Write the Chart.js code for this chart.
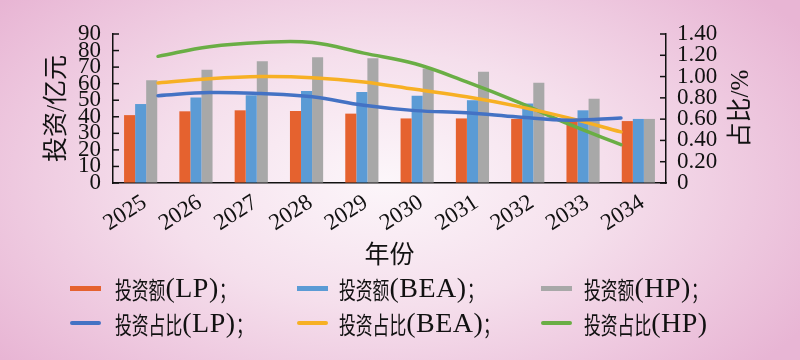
<!DOCTYPE html>
<html>
<head>
<meta charset="utf-8">
<script src="https://cdn.jsdelivr.net/npm/chart.js@4.4.1/dist/chart.umd.min.js"></script>
<style>
  html, body { margin: 0; padding: 0; }
  body {
    width: 800px; height: 360px; overflow: hidden; position: relative;
    background: radial-gradient(ellipse 62% 78% at 48% 50%, #fcf6fa 0%, #f5dfec 45%, #e8b5d4 100%);
  }
  #chart { position: absolute; left: 0; top: 0; }
  #legend { position: absolute; left: 0; top: 0; width: 800px; height: 360px; pointer-events: none; color: #111; }
  .sw { position: absolute; width: 31px; }
  .txt { position: absolute; top: 0; height: 30px; display: flex; align-items: center; white-space: nowrap; }
  .cjk { display: inline-block; font-family: "Noto Sans CJK SC", sans-serif; font-size: 24px;
    transform: scaleX(0.7); transform-origin: left center; }
  .lat { font-family: "Liberation Serif", serif; font-size: 28px; letter-spacing: 0.5px; }
</style>
</head>
<body>
<canvas id="chart" width="800" height="360"></canvas>
<div id="legend"></div>
<script>
// ===== DATA =====
const years = ['2025', '2026', '2027', '2028', '2029', '2030', '2031', '2032', '2033', '2034'];
const investLP = [41, 43.3, 43.9, 43.5, 41.9, 39, 39, 38.7, 37.6, 37.4];
const investBEA = [47.7, 51.7, 53, 55.6, 55, 52.7, 50, 48, 43.9, 38.7];
const investHP = [62, 68.4, 73.5, 76, 75.3, 69.2, 67.2, 60.6, 50.9, 38.7];
const shareLP = [0.82, 0.85, 0.84, 0.81, 0.73, 0.68, 0.66, 0.62, 0.59, 0.61];
const shareBEA = [0.94, 0.98, 1.00, 0.99, 0.95, 0.88, 0.81, 0.72, 0.61, 0.48];
const shareHP = [1.19, 1.28, 1.32, 1.32, 1.22, 1.12, 0.95, 0.76, 0.55, 0.36];
const leftTicks = [0, 10, 20, 30, 40, 50, 60, 70, 80, 90];
const rightTicks = [0, 0.2, 0.4, 0.6, 0.8, 1.0, 1.2, 1.4];
const rightTickLabels = ['0', '0.20', '0.40', '0.60', '0.80', '1.00', '1.20', '1.40'];
const rightTitle = '占比/%';

const serif = '"Liberation Serif", "Noto Sans CJK SC", serif';
Chart.defaults.font.family = serif;
Chart.defaults.color = '#111';

const toPoints = arr => arr.map((v, i) => ({ x: i, y: v }));
const yearIdx = years.map((y, i) => i);

// inward tick marks + right-hand title (reads bottom to top)
const axisExtras = {
  id: 'axisExtras',
  afterDraw(chart) {
    const ctx = chart.ctx;
    ctx.save();
    ctx.strokeStyle = '#111';
    ctx.lineWidth = 1.5;
    [['y', 1], ['y1', -1]].forEach(([id, dir]) => {
      const s = chart.scales[id];
      const x0 = id === 'y' ? s.right : s.left;
      s.ticks.forEach((t, i) => {
        const y = s.getPixelForTick(i);
        ctx.beginPath();
        ctx.moveTo(x0, y);
        ctx.lineTo(x0 + dir * 6, y);
        ctx.stroke();
      });
    });
    const area = chart.chartArea;
    ctx.translate(741, (area.top + area.bottom) / 2);
    ctx.rotate(-Math.PI / 2);
    ctx.fillStyle = '#111';
    ctx.font = '25px ' + serif;
    ctx.textAlign = 'center';
    ctx.textBaseline = 'middle';
    ctx.fillText(rightTitle, 0, 0);
    ctx.restore();
  }
};

const lineDs = (label, data, color) => ({
  type: 'line', label, data: toPoints(data), borderColor: color, backgroundColor: color,
  borderWidth: 3.5, pointRadius: 0, tension: 0.4, xAxisID: 'xl', yAxisID: 'y1', order: 0,
  borderCapStyle: 'round'
});
// each bar series sits on its own hidden linear axis, shifted by one bar width
const barDs = (label, data, color, axis) => ({
  type: 'bar', label, data: toPoints(data), backgroundColor: color, yAxisID: 'y', xAxisID: axis, order: 1,
  grouped: false, categoryPercentage: 1, barPercentage: 0.2
});
const hiddenX = (min, max) => ({
  type: 'linear', display: false, offset: false, min, max, grid: { offset: false },
  afterBuildTicks: s => { s.ticks = yearIdx.map(v => ({ value: v })); }
});

const chart = new Chart(document.getElementById('chart'), {
  type: 'bar',
  data: {
    labels: years,
    datasets: [
      barDs('投资额(LP)；', investLP, '#e5622f', 'xa'),
      barDs('投资额(BEA)；', investBEA, '#5b9bd5', 'xb'),
      barDs('投资额(HP)；', investHP, '#a8a8a8', 'xc'),
      lineDs('投资占比(LP)；', shareLP, '#4472c4'),
      lineDs('投资占比(BEA)；', shareBEA, '#f7b024'),
      lineDs('投资占比(HP)', shareHP, '#6aae45')
    ]
  },
  options: {
    responsive: false,
    animation: false,
    devicePixelRatio: 1,
    layout: { padding: { top: 34, bottom: 92, left: 0, right: 0 } },
    plugins: { legend: { display: false }, tooltip: { enabled: false } },
    scales: {
      x: {
        type: 'category', position: 'bottom', offset: true,
        grid: { display: false, drawTicks: false },
        border: { color: '#111', width: 1.5 },
        ticks: { autoSkip: false, minRotation: 33, maxRotation: 33, padding: 6, labelOffset: 4, font: { size: 23 }, color: '#111' },
        title: { display: true, text: '年份', font: { size: 25 }, color: '#111', padding: { top: 0, bottom: -3 } },
        afterFit: s => { s.height = 85; }
      },
      xa: hiddenX(-0.3, 9.7),
      xb: hiddenX(-0.5, 9.5),
      xc: hiddenX(-0.7, 9.3),
      xl: hiddenX(-0.875, 9.875),
      y: {
        position: 'left', min: 0, max: 90,
        grid: { drawOnChartArea: false, drawTicks: false },
        border: { color: '#111', width: 1.5 },
        afterBuildTicks: s => { s.ticks = leftTicks.map(v => ({ value: v })); },
        ticks: { autoSkip: false, padding: 12, font: { size: 23 }, color: '#111' },
        title: { display: true, text: '投资/亿元', font: { size: 25 }, color: '#111', padding: { top: 42, bottom: 0 } },
        afterFit: s => { s.width = 113; }
      },
      y1: {
        position: 'right', min: 0, max: 1.4,
        grid: { drawOnChartArea: false, drawTicks: false },
        border: { color: '#111', width: 1.5 },
        afterBuildTicks: s => { s.ticks = rightTicks.map(v => ({ value: v })); },
        ticks: { autoSkip: false, padding: 11, font: { size: 23 }, color: '#111', callback: (v, i) => rightTickLabels[i] },
        afterFit: s => { s.width = 134; }
      }
    }
  },
  plugins: [axisExtras]
});

// ===== LEGEND (built from the datasets) =====
const swatchCols = [70, 297, 541];
const textCols = [115, 339, 584];
const legendRows = [288, 323];
const legendEl = document.getElementById('legend');
chart.data.datasets.forEach((ds, i) => {
  const col = i % 3, row = Math.floor(i / 3);
  const isLine = ds.type === 'line';
  const sw = document.createElement('span');
  sw.className = 'sw';
  const h = isLine ? 4 : 5;
  sw.style.left = swatchCols[col] + 'px';
  sw.style.top = (legendRows[row] - h / 2) + 'px';
  sw.style.height = h + 'px';
  sw.style.borderRadius = isLine ? '2px' : '0';
  sw.style.background = isLine ? ds.borderColor : ds.backgroundColor;
  legendEl.appendChild(sw);

  const txt = document.createElement('div');
  txt.className = 'txt';
  txt.style.left = textCols[col] + 'px';
  txt.style.top = (legendRows[row] - 15) + 'px';
  ds.label.split(/([\u3000-\u9fff\uff00-\uffef]+)/).filter(Boolean).forEach(part => {
    const span = document.createElement('span');
    if (/[\u3000-\u9fff\uff00-\uffef]/.test(part)) {
      span.className = 'cjk';
      span.style.marginRight = (-0.3 * 24 * part.length) + 'px';
    } else {
      span.className = 'lat';
    }
    span.textContent = part;
    txt.appendChild(span);
  });
  legendEl.appendChild(txt);
});
</script>
</body>
</html>
